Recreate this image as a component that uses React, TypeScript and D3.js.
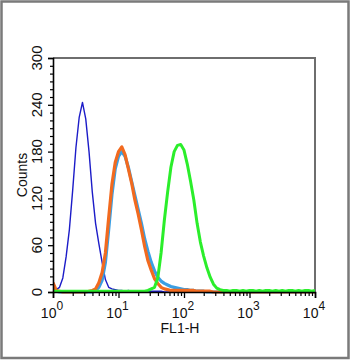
import React, { useEffect, useRef } from "react";
import * as d3 from "d3";

// FL1 histogram bins: 0.05 decade wide, bin i sits at 10^(i*0.05)
const BIN_DECADES = 0.05;

const isotypeCounts = [
  5, 3, 6, 18, 45, 80, 130, 185, 224, 243, 222, 180, 128, 88, 62, 38, 16, 6, 4, 3,
  2, 2, 1, 2, 1, 1, 1, 1, 1, 1, 1, 1, 1, 1, 0, 0, 0, 0, 0, 0,
  0, 0, 0, 0, 0, 0, 0, 0, 0, 0, 0, 0, 0, 0, 0, 0, 0, 0, 0, 0,
  0, 0, 0, 0, 0, 0, 0, 0, 0, 0, 0, 0, 0, 0, 0, 0, 0, 0, 0, 0, 0,
];

const controlCounts = [
  6, 1, 0, 0, 0, 0, 0, 0, 0, 0, 0, 0, 0, 2, 6, 15, 38, 80, 125, 158,
  174, 180, 174, 160, 142, 124, 106, 88, 68, 52, 38, 27, 19, 14, 11, 9, 7, 6, 5, 4,
  3, 3, 2, 2, 1, 1, 1, 0, 0, 0, 0, 0, 0, 0, 0, 0, 0, 0, 0, 0,
  0, 0, 0, 0, 0, 0, 0, 0, 0, 0, 0, 0, 0, 0, 0, 0, 0, 0, 0, 0, 0,
];

const secondaryCounts = [
  12, 2, 1, 0, 0, 0, 0, 0, 0, 0, 0, 1, 2, 4, 12, 25, 50, 95, 138, 166,
  180, 186, 176, 158, 140, 118, 100, 80, 58, 40, 28, 17, 11, 6, 4, 3, 2, 2, 2, 2,
  2, 2, 2, 2, 1, 1, 1, 1, 1, 0, 0, 0, 0, 0, 0, 0, 0, 0, 0, 0,
  0, 0, 0, 0, 0, 0, 0, 0, 0, 0, 0, 0, 0, 0, 0, 0, 0, 0, 0, 0, 0,
];

const antibodyCounts = [
  1, 1, 1, 1, 1, 1, 1, 1, 1, 1, 1, 1, 1, 1, 1, 1, 1, 1, 1, 1,
  1, 1, 1, 1, 1, 1, 1, 1, 1, 2, 4, 6, 18, 50, 92, 128, 160, 180, 188, 189,
  182, 164, 142, 118, 88, 64, 46, 31, 19, 10, 5, 3, 2, 2, 1, 2, 2, 1, 2, 1,
  2, 2, 1, 2, 1, 2, 2, 1, 2, 1, 2, 1, 2, 2, 1, 2, 1, 2, 2, 1, 2,
];

const seriesList = [
  { name: "isotype", counts: isotypeCounts, color: "#1c1cc8", width: 1.4 },
  { name: "control", counts: controlCounts, color: "#3a9fe4", width: 3.2 },
  { name: "secondary", counts: secondaryCounts, color: "#f26a1f", width: 3.2 },
  { name: "antibody", counts: antibodyCounts, color: "#2bee2b", width: 3 },
];

const yTicks = [0, 60, 120, 180, 240, 300];
const xDecades = [0, 1, 2, 3, 4];

const FONT = "'Liberation Sans', Arial, Helvetica, sans-serif";

export default function App() {
  const ref = useRef<SVGSVGElement>(null);

  useEffect(() => {
    if (!ref.current) return;
    const svg = d3.select(ref.current);
    svg.selectAll("*").remove();

    const left = 53;
    const right = 315;
    const top = 58;
    const bottom = 292;

    const x = d3.scaleLog().domain([1, 10000]).range([left, right]);
    const y = d3.scaleLinear().domain([0, 300]).range([bottom, top]);

    // outer frame
    svg
      .append("rect")
      .attr("x", 1.5)
      .attr("y", 1.5)
      .attr("width", 347)
      .attr("height", 356.5)
      .attr("fill", "#fff")
      .attr("stroke", "#7a7a7a")
      .attr("stroke-width", 2.5);

    // top + right border of plot
    svg
      .append("path")
      .attr("d", `M${left},${top}H${right}V${bottom}`)
      .attr("fill", "none")
      .attr("stroke", "#6e6e6e")
      .attr("stroke-width", 2);

    svg
      .append("clipPath")
      .attr("id", "plotclip")
      .append("rect")
      .attr("x", left)
      .attr("y", top - 2)
      .attr("width", right - left)
      .attr("height", bottom - top + 4);

    const line = d3
      .line<number>()
      .x((_, i) => x(Math.pow(10, i * BIN_DECADES)))
      .y((d) => y(d))
      .curve(d3.curveLinear);

    const g = svg.append("g").attr("clip-path", "url(#plotclip)");
    seriesList.forEach((s) => {
      g.append("path")
        .datum(s.counts)
        .attr("d", line)
        .attr("fill", "none")
        .attr("stroke", s.color)
        .attr("stroke-width", s.width)
        .attr("stroke-linejoin", "round");
    });

    // y axis
    const yMinor = d3.range(0, 301, 10).filter((v) => v % 60 !== 0);
    const yAxisG = svg.append("g").attr("transform", `translate(${left},0)`);
    yAxisG
      .call(d3.axisLeft(y).tickValues(yTicks).tickSize(5).tickFormat(() => ""))
      .call((a) => a.select(".domain").attr("stroke-width", 1.6));
    yAxisG.selectAll(".tick line").attr("stroke-width", 1.3);
    svg
      .append("g")
      .attr("transform", `translate(${left},0)`)
      .call(d3.axisLeft(y).tickValues(yMinor).tickSize(3).tickFormat(() => ""))
      .call((a) => a.select(".domain").remove())
      .selectAll(".tick line")
      .attr("stroke-width", 1.2);

    yTicks.forEach((v) => {
      svg
        .append("text")
        .attr("transform", `translate(42,${y(v)}) rotate(-90)`)
        .attr("text-anchor", "middle")
        .attr("font-family", FONT)
        .attr("font-size", 15)
        .attr("fill", "#111")
        .text(v);
    });

    svg
      .append("text")
      .attr("transform", `translate(26.5,175) rotate(-90)`)
      .attr("text-anchor", "middle")
      .attr("font-family", FONT)
      .attr("font-size", 14)
      .attr("fill", "#111")
      .text("Counts");

    // x axis
    const xMajor = xDecades.map((d) => Math.pow(10, d));
    const xMinor: number[] = [];
    xDecades.slice(0, 4).forEach((d) => {
      for (let m = 2; m <= 9; m++) xMinor.push(m * Math.pow(10, d));
    });
    const xAxisG = svg.append("g").attr("transform", `translate(0,${bottom})`);
    xAxisG
      .call(d3.axisBottom(x).tickValues(xMajor).tickSize(6).tickFormat(() => ""))
      .call((a) => a.select(".domain").attr("stroke-width", 1.6));
    xAxisG.selectAll(".tick line").attr("stroke-width", 1.3);
    svg
      .append("g")
      .attr("transform", `translate(0,${bottom})`)
      .call(d3.axisBottom(x).tickValues(xMinor).tickSize(4).tickFormat(() => ""))
      .call((a) => a.select(".domain").remove())
      .selectAll(".tick line")
      .attr("stroke-width", 1.2);

    xDecades.forEach((d) => {
      const t = svg
        .append("text")
        .attr("x", x(Math.pow(10, d)) - 1)
        .attr("y", 318)
        .attr("text-anchor", "middle")
        .attr("font-family", FONT)
        .attr("font-size", 14)
        .attr("fill", "#111");
      t.append("tspan").text("10");
      t.append("tspan").attr("dy", -8).attr("font-size", 12).text(d);
    });

    svg
      .append("text")
      .attr("x", 180)
      .attr("y", 333)
      .attr("text-anchor", "middle")
      .attr("font-family", FONT)
      .attr("font-size", 14)
      .attr("fill", "#111")
      .text("FL1-H");
  }, []);

  return (
    <svg
      ref={ref}
      width={351}
      height={360}
      style={{ position: "absolute", left: 0, top: 0, background: "#fff" }}
    />
  );
}
